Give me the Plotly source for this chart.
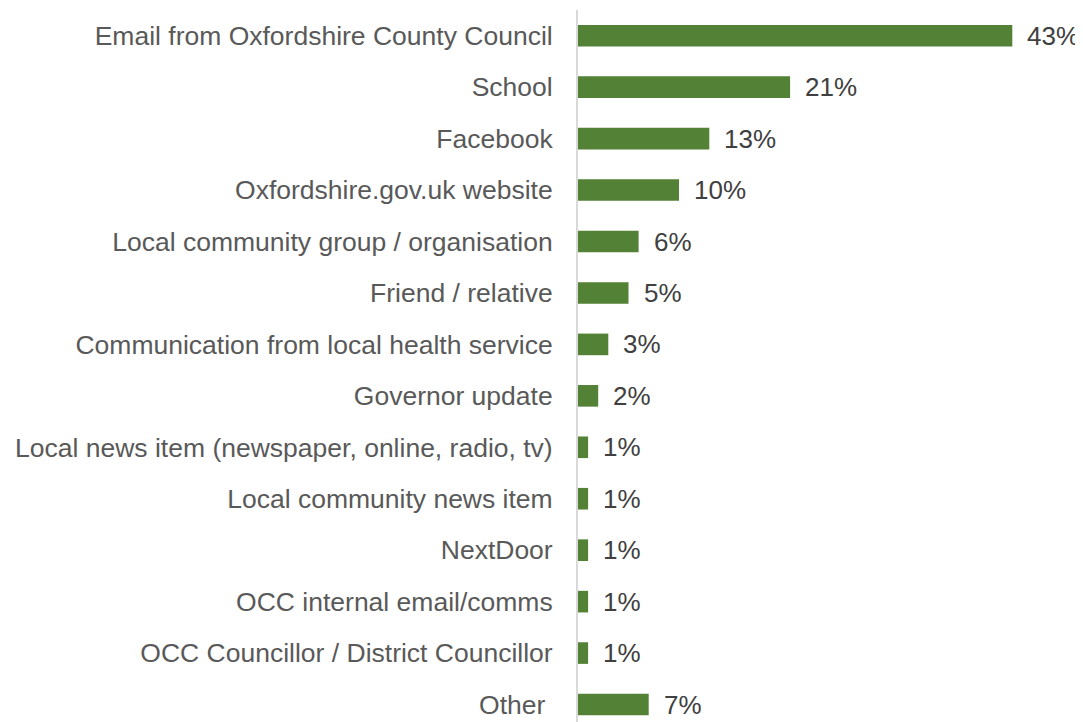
import plotly.graph_objects as go

categories = [
    "Email from Oxfordshire County Council",
    "School",
    "Facebook",
    "Oxfordshire.gov.uk website",
    "Local community group / organisation",
    "Friend / relative",
    "Communication from local health service",
    "Governor update",
    "Local news item (newspaper, online, radio, tv)",
    "Local community news item",
    "NextDoor",
    "OCC internal email/comms",
    "OCC Councillor / District Councillor",
    "Other ",
]
values = [43, 21, 13, 10, 6, 5, 3, 2, 1, 1, 1, 1, 1, 7]
value_labels = [f"{v}%" for v in values]

FONT = "Liberation Sans, Arial, sans-serif"

fig = go.Figure()
fig.add_trace(go.Bar(
    x=values,
    y=categories,
    orientation="h",
    marker=dict(color="#538135", line=dict(width=0)),
    hoverinfo="skip",
))

for cat, v, lab in zip(categories, values, value_labels):
    fig.add_annotation(
        x=v, y=cat, text=lab, showarrow=False,
        xanchor="left", yanchor="middle", xshift=13,
        font=dict(family=FONT, size=26, color="#404040"),
    )

fig.update_layout(
    width=1075, height=714,
    margin=dict(l=570, r=0, t=2, b=0, autoexpand=False),
    paper_bgcolor="white", plot_bgcolor="white",
    showlegend=False,
    bargap=0.58,
    font=dict(family=FONT, size=26.5, color="#595959"),
)
fig.update_xaxes(range=[0, 50], visible=False, showgrid=False, zeroline=False,
                 automargin=False)
fig.update_yaxes(
    type="category",
    categoryorder="array", categoryarray=categories,
    range=[13.34, -0.5],
    automargin=False,
    showline=True, linecolor="#d9d9d9", linewidth=2,
    showgrid=False, zeroline=False,
    ticks="", ticklabelstandoff=18,
    tickfont=dict(family=FONT, size=26.5, color="#595959"),
)

fig.write_html("out.html")
